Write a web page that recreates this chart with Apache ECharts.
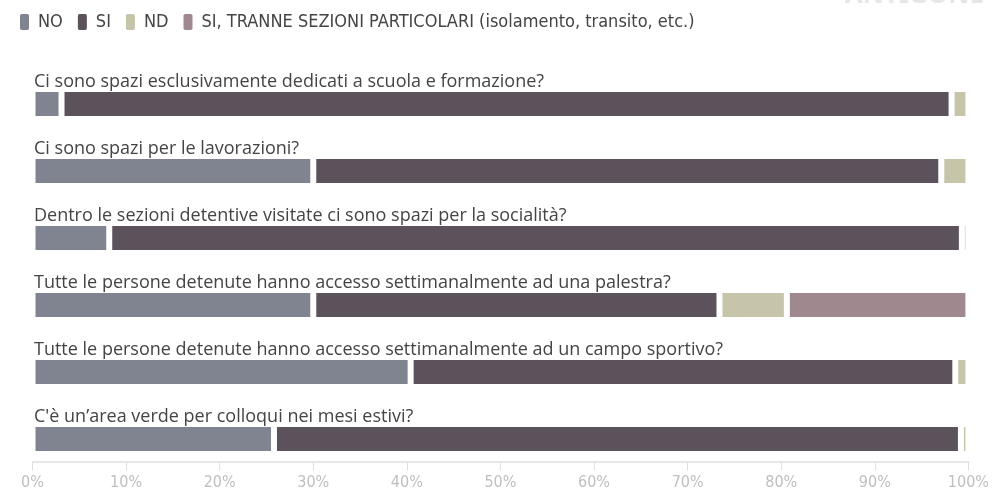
<!DOCTYPE html>
<html>
<head>
<meta charset="utf-8">
<script src="https://cdn.jsdelivr.net/npm/echarts@6/dist/echarts.min.js"></script>
<style>html,body{margin:0;padding:0;background:#fff;}#c{width:992px;height:493px;}</style>
</head>
<body>
<div id="c"></div>
<script>
var categories = [
  "Ci sono spazi esclusivamente dedicati a scuola e formazione?",
  "Ci sono spazi per le lavorazioni?",
  "Dentro le sezioni detentive visitate ci sono spazi per la socialità?",
  "Tutte le persone detenute hanno accesso settimanalmente ad una palestra?",
  "Tutte le persone detenute hanno accesso settimanalmente ad un campo sportivo?",
  "C'è un’area verde per colloqui nei mesi estivi?"
];
var seriesNames = ["NO", "SI", "ND", "SI, TRANNE SEZIONI PARTICOLARI (isolamento, transito, etc.)"];
var valNO = [3.1, 30.0, 8.2, 30.0, 40.4, 25.8];
var valSI = [95.1, 67.1, 91.1, 43.4, 58.2, 73.4];
var valND = [1.8, 2.9, 0.7, 7.2, 1.4, 0.8];
var valSIP = [0, 0, 0, 19.4, 0, 0];
var tickLabels = ["0%", "10%", "20%", "30%", "40%", "50%", "60%", "70%", "80%", "90%", "100%"];
var colors = ["#7f8490", "#5b525b", "#c6c5a9", "#a0888f"];

var chart = echarts.init(document.getElementById('c'), null, {renderer: 'canvas'});
var allVals = [valNO, valSI, valND, valSIP];
var series = seriesNames.map(function (n, i) {
  return {
    name: n,
    type: 'bar',
    stack: 'tot',
    barWidth: 30,
    data: allVals[i],
    itemStyle: {color: colors[i], borderColor: '#ffffff', borderWidth: 3},
    emphasis: {disabled: true}
  };
});
var condensed = '"DejaVu Sans Condensed", "Liberation Sans Narrow", sans-serif';
chart.setOption({
  animation: false,
  backgroundColor: '#ffffff',
  color: colors,
  graphic: [{
    type: 'text', right: 8, top: -17,
    style: {text: 'ANTIGONE', fontSize: 26, fontWeight: 'bold', fill: '#e6e6e6', fontFamily: 'Noto Sans', letterSpacing: 3}
  }],
  legend: {
    left: 13, top: 7,
    icon: 'roundRect',
    itemWidth: 11, itemHeight: 18, itemGap: 13,
    textStyle: {color: '#444', fontSize: 18, fontFamily: condensed, padding: [0, 0, 0, 3]},
    selectedMode: false,
    data: seriesNames
  },
  grid: {left: 32.5, right: 22.5, top: 70.5, bottom: 20.5, containLabel: false},
  xAxis: {
    type: 'value', min: 0, max: 100, interval: 10,
    offset: -11,
    axisLine: {show: true, lineStyle: {color: '#e6e6e6', width: 2}},
    axisTick: {show: true, length: 9, lineStyle: {color: '#e0e0e0'}},
    splitLine: {show: false},
    axisLabel: {
      color: '#bfbfbf', fontSize: 16, margin: 13,
      fontFamily: condensed,
      formatter: function (v) { return tickLabels[Math.round(v / 10)]; }
    }
  },
  yAxis: {
    type: 'category', inverse: true, data: categories,
    axisLine: {show: false}, axisTick: {show: false},
    axisLabel: {
      inside: true, align: 'left', verticalAlign: 'bottom', margin: 1.5,
      padding: [0, 0, 13, 0],
      color: '#444', fontSize: 18, fontFamily: '"Open Sans", sans-serif'
    },
    z: 10
  },
  series: series
});
</script>
</body>
</html>
